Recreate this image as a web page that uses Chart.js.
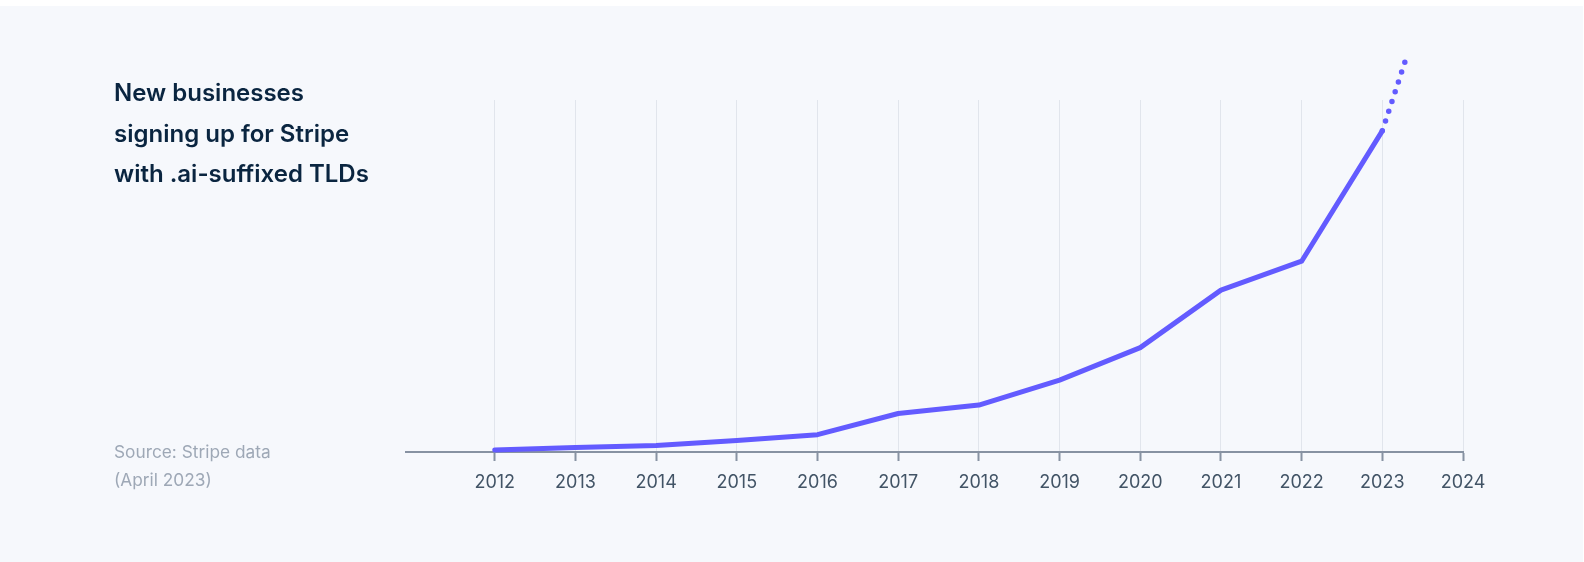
<!DOCTYPE html>
<html>
<head>
<meta charset="utf-8">
<script src="https://cdn.jsdelivr.net/npm/chart.js@4.4.0/dist/chart.umd.min.js"></script>
<style>
  html, body { margin: 0; padding: 0; background: #ffffff; width: 1584px; height: 562px; overflow: hidden; }
  .panel { position: absolute; left: 0; top: 6px; width: 1583px; height: 556px; background: #f6f8fc; }
  canvas { position: absolute; left: 0; top: 0; }
  .title { position: absolute; left: 114px; top: 73px; font-family: Inter, sans-serif; font-weight: 600;
           font-size: 24px; line-height: 40.5px; color: #0a2540; }
  .source { position: absolute; left: 114px; top: 438px; font-family: Inter, sans-serif; font-weight: 400;
            font-size: 17.3px; line-height: 28px; color: #9ea8b6; }
</style>
</head>
<body>
<div class="panel"></div>
<canvas id="trendChart" width="1584" height="562"></canvas>
<div class="title">New businesses<br>signing up for Stripe<br>with .ai-suffixed TLDs</div>
<div class="source">Source: Stripe data<br>(April 2023)</div>
<script>
    // New businesses with .ai TLDs, indexed so 2023 = 100
    const years = [2012, 2013, 2014, 2015, 2016, 2017, 2018, 2019, 2020, 2021, 2022, 2023];
    const signups = [0.6, 1.4, 2.0, 3.6, 5.4, 12.0, 14.6, 22.4, 32.5, 50.4, 59.4, 100];
    // projected part, shown dotted (April 2023)
    const projYears = [2023, 2023.28];
    const projValues = [100, 121.4];
    const tickYears = [2012, 2013, 2014, 2015, 2016, 2017, 2018, 2019, 2020, 2021, 2022, 2023, 2024];

    const toPoints = (xs, ys) => xs.map((x, i) => ({ x: x, y: ys[i] }));

    const ctx = document.getElementById('trendChart').getContext('2d');
    new Chart(ctx, {
        type: 'line',
        data: {
            datasets: [{
                data: toPoints(years, signups),
                borderColor: '#635bff',
                borderWidth: 5,
                borderCapStyle: 'round',
                borderJoinStyle: 'round',
                pointRadius: 0,
                tension: 0,
                clip: false
            }, {
                data: toPoints(projYears, projValues),
                borderColor: '#635bff',
                borderWidth: 5.5,
                borderDash: [0, 10.3],
                borderCapStyle: 'round',
                pointRadius: 0,
                tension: 0,
                clip: false
            }]
        },
        options: {
            responsive: false,
            animation: false,
            devicePixelRatio: 1,
            layout: { padding: { left: 406, right: 121, top: 100, bottom: 50 } },
            plugins: { legend: { display: false }, tooltip: { enabled: false } },
            scales: {
                x: {
                    type: 'linear',
                    min: 2010.9,
                    max: 2024,
                    afterBuildTicks: (scale) => { scale.ticks = tickYears.map(v => ({ value: v })); },
                    afterFit: (scale) => { scale.height = 60; },
                    grid: { color: '#e1e5ec', lineWidth: 1, tickColor: '#8792a2', tickWidth: 2, tickLength: 9 },
                    border: { display: true, color: '#8792a2', width: 2 },
                    ticks: {
                        color: '#425466',
                        padding: 11,
                        font: { family: 'Inter', size: 18 },
                        callback: (v) => String(v)
                    }
                },
                y: {
                    display: false,
                    min: 0,
                    max: 109.6
                }
            }
        }
    });
</script>
</body>
</html>
